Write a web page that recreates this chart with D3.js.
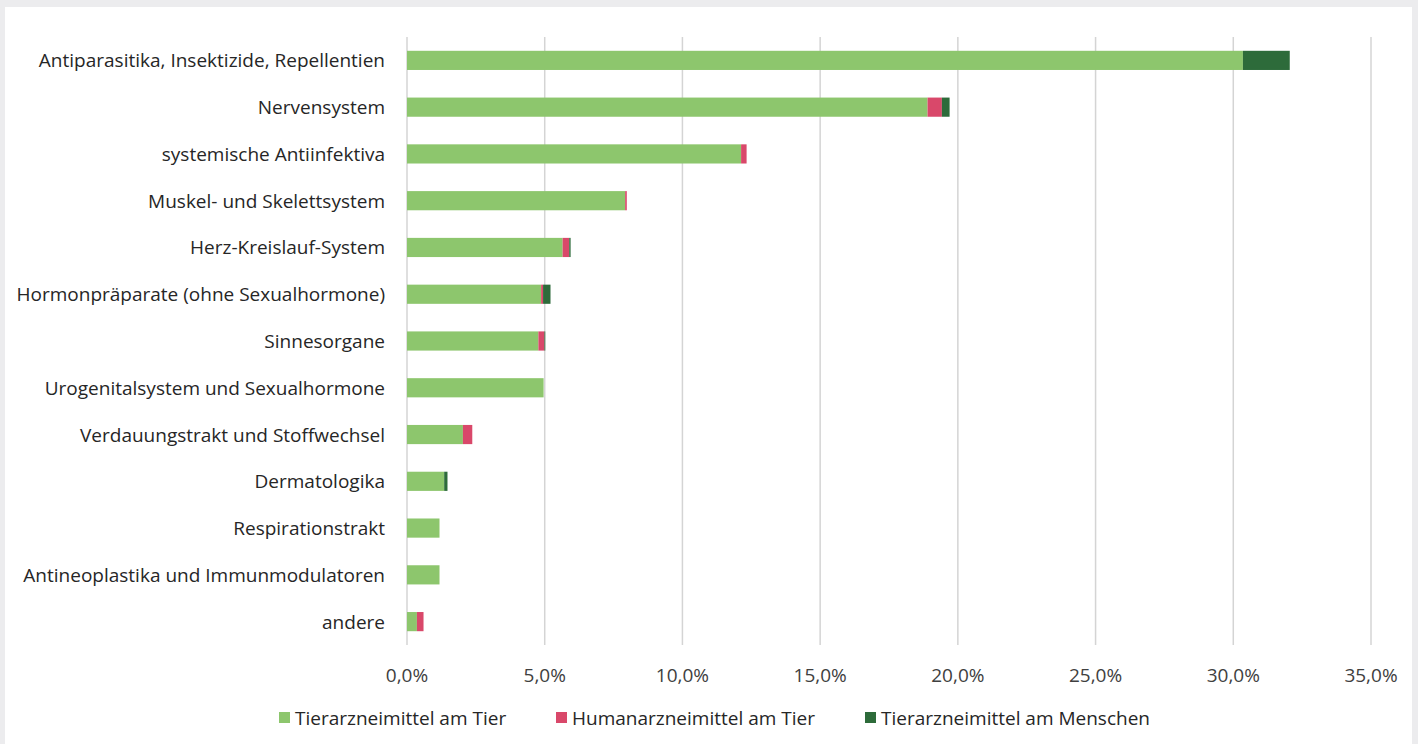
<!DOCTYPE html>
<html>
<head>
<meta charset="utf-8">
<script src="https://cdn.jsdelivr.net/npm/d3@7"></script>
<style>
  html, body { margin: 0; padding: 0; background: #ececee; }
  svg { display: block; font-family: "Open Sans", "DejaVu Sans", sans-serif; }
</style>
</head>
<body>
<svg id="chart" width="1418" height="744"></svg>
<script>
// --- Data ---
const categories = [
  "Antiparasitika, Insektizide, Repellentien",
  "Nervensystem",
  "systemische Antiinfektiva",
  "Muskel- und Skelettsystem",
  "Herz-Kreislauf-System",
  "Hormonpräparate (ohne Sexualhormone)",
  "Sinnesorgane",
  "Urogenitalsystem und Sexualhormone",
  "Verdauungstrakt und Stoffwechsel",
  "Dermatologika",
  "Respirationstrakt",
  "Antineoplastika und Immunmodulatoren",
  "andere"
];
const seriesNames = ["Tierarzneimittel am Tier", "Humanarzneimittel am Tier", "Tierarzneimittel am Menschen"];
const tierAmTier     = [30.35, 18.9, 12.13, 7.92, 5.65, 4.87, 4.77, 4.96, 2.03, 1.35, 1.18, 1.18, 0.36];
const humanAmTier    = [0.0,   0.52, 0.2,  0.06, 0.24, 0.07, 0.22, 0.0,  0.34, 0.0,  0.0,  0.0,  0.24];
const tierAmMenschen = [1.7,   0.28, 0.0,  0.0,  0.05, 0.27, 0.03, 0.0,  0.0,  0.12, 0.0,  0.0,  0.0];
const xTicks = [0, 5, 10, 15, 20, 25, 30, 35];
const colors = ["#8dc66d", "#d9486a", "#2d6b3a"];

// --- Layout ---
const svg = d3.select("#chart");
svg.append("rect").attr("x", 5).attr("y", 7).attr("width", 1407).attr("height", 760).attr("fill", "#ffffff");

const x = d3.scaleLinear().domain([0, 35]).range([407, 1371]);
const y = d3.scaleBand().domain(categories).range([37, 645]).paddingInner(0.59).paddingOuter(0.295);

// gridlines
svg.append("g").selectAll("line").data(xTicks).join("line")
  .attr("x1", d => x(d)).attr("x2", d => x(d))
  .attr("y1", 37).attr("y2", 645)
  .attr("stroke", "#d4d4d4").attr("stroke-width", 1.5);

// tick labels
svg.append("g").selectAll("text").data(xTicks).join("text")
  .attr("x", d => x(d)).attr("y", 682)
  .attr("text-anchor", "middle")
  .attr("font-size", 19).attr("fill", "#404040")
  .text(d => d.toFixed(1).replace(".", ",") + "%");

// category labels
svg.append("g").selectAll("text").data(categories).join("text")
  .attr("x", 385).attr("y", d => y(d) + y.bandwidth() / 2 + 7)
  .attr("text-anchor", "end")
  .attr("font-size", 19).attr("fill", "#262626")
  .text(d => d);

// stacked bars
const rows = categories.map((c, i) => ({ cat: c, s0: tierAmTier[i], s1: humanAmTier[i], s2: tierAmMenschen[i] }));
const stack = d3.stack().keys(["s0", "s1", "s2"])(rows);

svg.append("g").selectAll("g").data(stack).join("g")
  .attr("fill", (d, i) => colors[i])
  .selectAll("rect").data(d => d).join("rect")
  .attr("x", d => x(d[0]))
  .attr("y", d => y(d.data.cat))
  .attr("width", d => x(d[1]) - x(d[0]))
  .attr("height", y.bandwidth());

// legend
const legendX = [279, 556, 865];
const legend = svg.append("g").selectAll("g").data(seriesNames).join("g")
  .attr("transform", (d, i) => `translate(${legendX[i]},718)`);
legend.append("rect").attr("x", 0).attr("y", -6).attr("width", 11).attr("height", 11)
  .attr("fill", (d, i) => colors[i]);
legend.append("text").attr("x", 16).attr("y", 7)
  .attr("font-size", 19).attr("fill", "#262626")
  .text(d => d);
</script>
</body>
</html>
